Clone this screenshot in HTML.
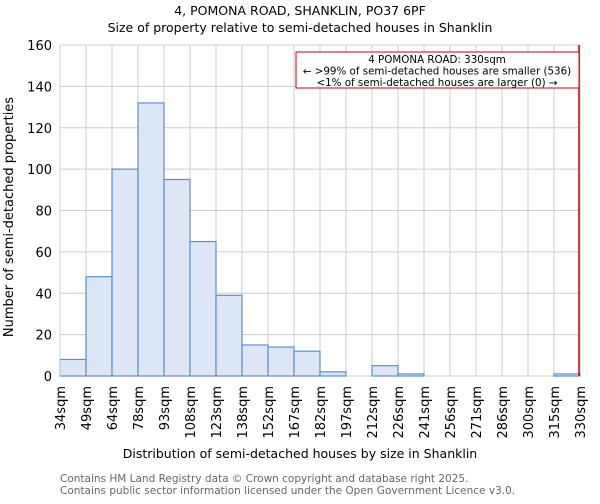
<!DOCTYPE html>
<html><head><meta charset="utf-8"><style>
body{margin:0;background:#fff;font-family:"DejaVu Sans","Liberation Sans",sans-serif;}
</style></head><body>
<svg id="c" width="600" height="500" xmlns="http://www.w3.org/2000/svg" font-family="DejaVu Sans, Liberation Sans, sans-serif">
<text x="300" y="15" text-anchor="middle" font-size="12.5">4, POMONA ROAD, SHANKLIN, PO37 6PF</text>
<text x="300" y="32" text-anchor="middle" font-size="12.5">Size of property relative to semi-detached houses in Shanklin</text>
<g id="grid"></g><g id="bars"></g><g id="axes"></g>
<text x="0" y="0" transform="translate(13,217) rotate(-90)" text-anchor="middle" font-size="13">Number of semi-detached properties</text>
<text x="300" y="458" text-anchor="middle" font-size="12.5">Distribution of semi-detached houses by size in Shanklin</text>
<text x="60" y="482" font-size="10.5" fill="#666">Contains HM Land Registry data © Crown copyright and database right 2025.</text>
<text x="60" y="494" font-size="10.5" fill="#666">Contains public sector information licensed under the Open Government Licence v3.0.</text>
</svg>
<script>
const categories=["34sqm","49sqm","64sqm","78sqm","93sqm","108sqm","123sqm","138sqm","152sqm","167sqm","182sqm","197sqm","212sqm","226sqm","241sqm","256sqm","271sqm","286sqm","300sqm","315sqm","330sqm"];
const counts=[8,48,100,132,95,65,39,15,14,12,2,0,5,1,0,0,0,0,0,1];
const yTicks=[0,20,40,60,80,100,120,140,160];
const markerIndex=20;
const annotationLines=["4 POMONA ROAD: 330sqm","← >99% of semi-detached houses are smaller (536)","<1% of semi-detached houses are larger (0) →"];
const NS="http://www.w3.org/2000/svg";
const X0=60,X1=580,Y0=376,Y1=45,yMax=160;
const nb=categories.length-1;
const x=i=>X0+(X1-X0)*i/nb;
const y=v=>Y0-(Y0-Y1)*v/yMax;
function mk(t,a,p){const e=document.createElementNS(NS,t);for(const k in a)e.setAttribute(k,a[k]);p.appendChild(e);return e;}
const grid=document.getElementById('grid'),bars=document.getElementById('bars'),axes=document.getElementById('axes');
yTicks.forEach(v=>{
 const l=mk('line',{x1:X0,x2:X1,y1:y(v),y2:y(v),stroke:'#ccc','stroke-width':1},grid);
 
 
 const t=mk('text',{x:X0-8,y:y(v)+5,'text-anchor':'end','font-size':13},axes);
 t.textContent=v;
 
 
});
categories.forEach((c,i)=>{
 const l=mk('line',{x1:x(i),x2:x(i),y1:Y1,y2:Y0,stroke:'#ccc','stroke-width':1},grid);
 
 
 const t=mk('text',{x:0,y:0,transform:`translate(${x(i)+5},${Y0+10}) rotate(-90)`,'text-anchor':'end','font-size':13},axes);
 t.textContent=c;
 
 
});
counts.forEach((v,i)=>{
 if(v<=0)return;
 const r=mk('rect',{x:x(i),y:y(v),width:x(i+1)-x(i),height:Y0-y(v),fill:'#dce6f4',stroke:'#5b8fd6','stroke-width':1.2},bars);
 
 
});
const ax=mk('line',{x1:X0,x2:X0,y1:Y1,y2:Y0,stroke:'#ccc'},axes);


const m=mk('line',{x1:x(markerIndex)-1,x2:x(markerIndex)-1,y1:Y1,y2:Y0,stroke:'#c00','stroke-width':1.5},axes);


const bx=mk('rect',{x:296,y:52,width:283,height:36,fill:'#fff',stroke:'#c00','stroke-width':1},axes);


annotationLines.forEach((s,i)=>{
 const t=mk('text',{x:437,y:63+i*11.5,'text-anchor':'middle','font-size':10.3},axes);
 t.textContent=s;
 
 
});
</script>
</body></html>
